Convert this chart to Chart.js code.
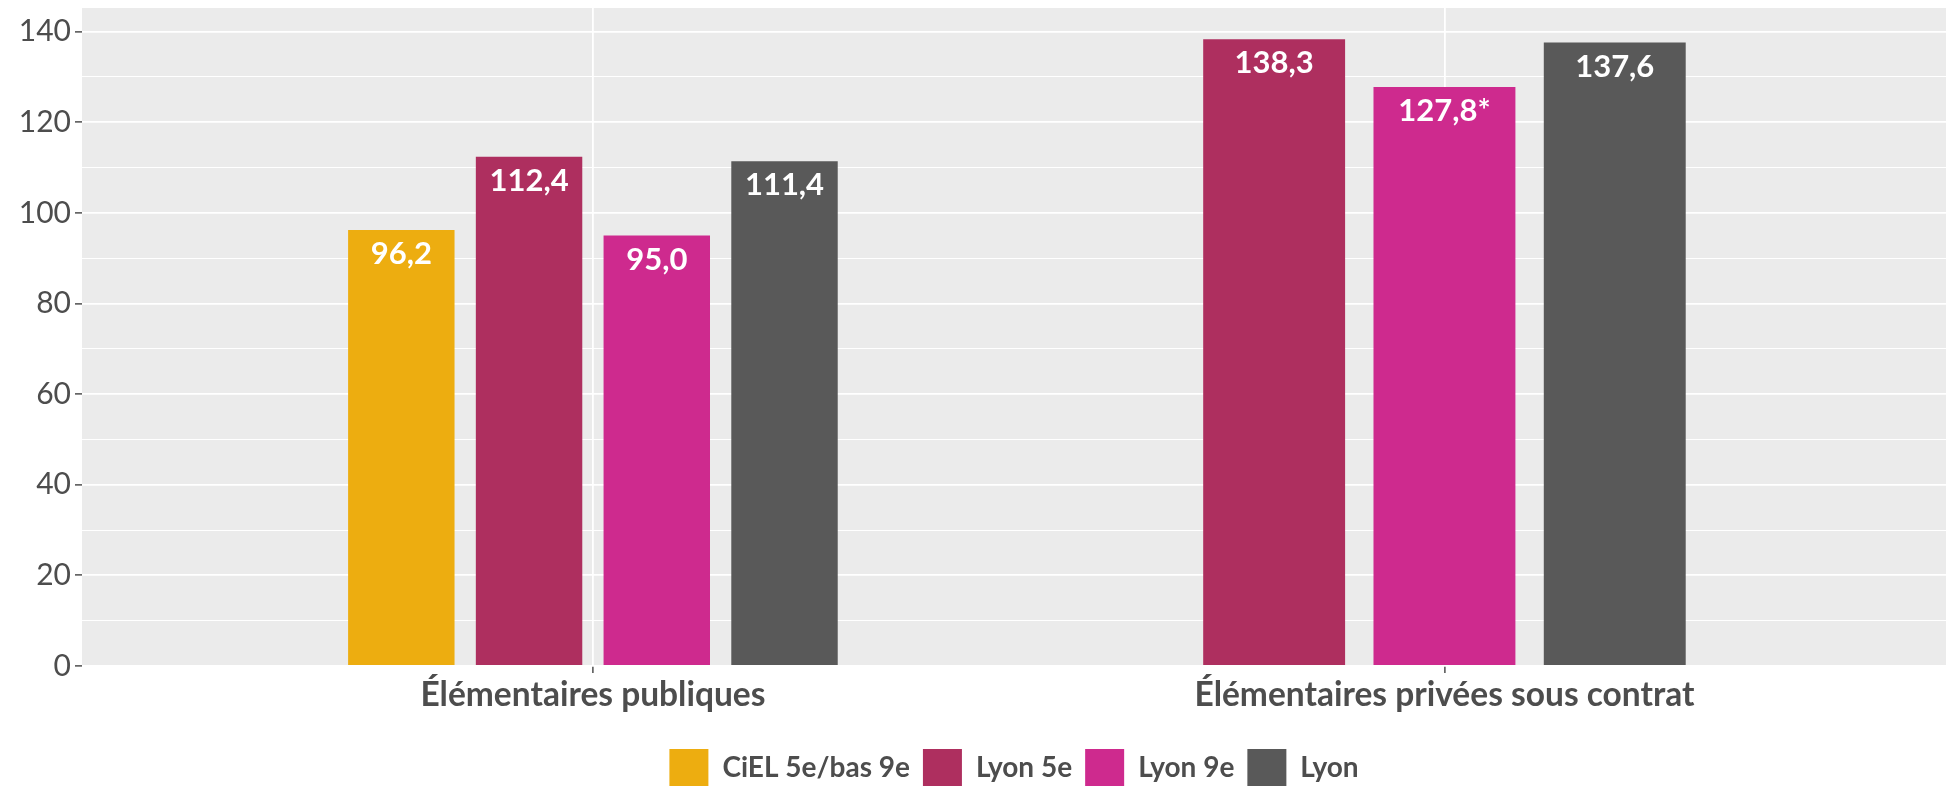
<!DOCTYPE html>
<html>
<head>
<meta charset="utf-8">
<script src="https://cdn.jsdelivr.net/npm/chart.js@4.4.1/dist/chart.umd.min.js"></script>
<style>
  html, body { margin: 0; padding: 0; background: #fff; }
</style>
</head>
<body>
<canvas id="chart" width="1946" height="788"></canvas>
<script>
// data
const categories = ['Élémentaires publiques', 'Élémentaires privées sous contrat'];
const seriesNames = ['CiEL 5e/bas 9e', 'Lyon 5e', 'Lyon 9e', 'Lyon'];
const cielValues = [96.2, null];
const lyon5Values = [112.4, 138.3];
const lyon9Values = [95.0, 127.8];
const lyonValues = [111.4, 137.6];
const lyon9Notes = ['', '*'];
const yTickLabels = [0, 20, 40, 60, 80, 100, 120, 140];
const yMinorTicks = [10, 30, 50, 70, 90, 110, 130];

const colors = ['#EDAD10', '#AE2F5F', '#CE2A8E', '#595959'];
const textGrey = '#4D4D4D';
const fontFamily = 'Lato, "Open Sans", sans-serif';

const allSeries = [cielValues, lyon5Values, lyon9Values, lyonValues];
const notes = [['', ''], ['', ''], lyon9Notes, ['', '']];
const yMax = Math.max(...allSeries.flat().filter(v => v !== null)) * 1.05;

const datasets = allSeries.map((vals, i) => ({
  label: seriesNames[i],
  data: vals.map((v, j) => ({ x: j + 1, y: v })),
  backgroundColor: colors[i],
  borderWidth: 0,
  notes: notes[i],
}));

const panelBg = {
  id: 'panelBg',
  beforeDraw(chart) {
    const { ctx, chartArea: a } = chart;
    ctx.save();
    ctx.fillStyle = '#EBEBEB';
    ctx.fillRect(a.left, a.top, a.right - a.left, a.bottom - a.top);
    ctx.restore();
  }
};

const barLabels = {
  id: 'barLabels',
  afterDatasetsDraw(chart) {
    const ctx = chart.ctx;
    ctx.save();
    ctx.fillStyle = '#FFFFFF';
    ctx.font = 'bold 31px ' + fontFamily;
    ctx.textAlign = 'center';
    ctx.textBaseline = 'middle';
    chart.data.datasets.forEach((ds, i) => {
      const meta = chart.getDatasetMeta(i);
      meta.data.forEach((bar, j) => {
        const v = ds.data[j].y;
        if (v === null) return;
        const txt = v.toFixed(1).replace('.', ',') + (ds.notes[j] || '');
        ctx.fillText(txt, bar.x, bar.y + 24);
      });
    });
    ctx.restore();
  }
};

new Chart(document.getElementById('chart'), {
  type: 'bar',
  data: { datasets },
  options: {
    responsive: false,
    animation: false,
    devicePixelRatio: 1,
    skipNull: true,
    categoryPercentage: 0.6,
    barPercentage: 0.8333,
    layout: { padding: { top: 8, bottom: -8, left: 0, right: 0 } },
    plugins: {
      tooltip: { enabled: false },
      legend: {
        position: 'bottom',
        fullSize: false,
        labels: {
          boxWidth: 39,
          boxHeight: 37,
          padding: 13,
          color: textGrey,
          font: { family: fontFamily, size: 28, weight: 'bold' }
        }
      }
    },
    scales: {
      x: {
        type: 'linear',
        offset: false,
        min: 0.4,
        max: 2.589,
        afterBuildTicks: s => { s.ticks = categories.map((c, i) => ({ value: i + 1 })); },
        afterFit: s => { s.height = 70; s.paddingLeft = 0; s.paddingRight = 0; },
        border: { display: false },
        grid: {
          offset: false,
          color: '#FFFFFF',
          lineWidth: 1.8,
          tickColor: '#333333',
          tickLength: 7,
          tickWidth: 1.3
        },
        ticks: {
          autoSkip: false,
          maxRotation: 0,
          padding: 2,
          color: textGrey,
          font: { family: fontFamily, size: 33.5, weight: 'bold' },
          callback: v => categories[v - 1]
        }
      },
      y: {
        min: 0,
        max: yMax,
        afterBuildTicks: s => {
          s.ticks = yTickLabels.concat(yMinorTicks).sort((a, b) => a - b).map(v => ({ value: v }));
        },
        afterFit: s => { s.width = 82; s.paddingTop = 0; s.paddingBottom = 0; },
        border: { display: false },
        grid: {
          color: '#FFFFFF',
          lineWidth: c => (yTickLabels.includes(c.tick.value) ? 1.8 : 1.1),
          tickColor: c => (yTickLabels.includes(c.tick.value) ? '#333333' : 'rgba(0,0,0,0)'),
          tickLength: 7,
          tickWidth: 1.3
        },
        ticks: {
          padding: 4,
          color: textGrey,
          font: { family: fontFamily, size: 30 },
          callback: v => (yTickLabels.includes(v) ? String(v) : '')
        }
      }
    }
  },
  plugins: [panelBg, barLabels]
});
</script>
</body>
</html>
